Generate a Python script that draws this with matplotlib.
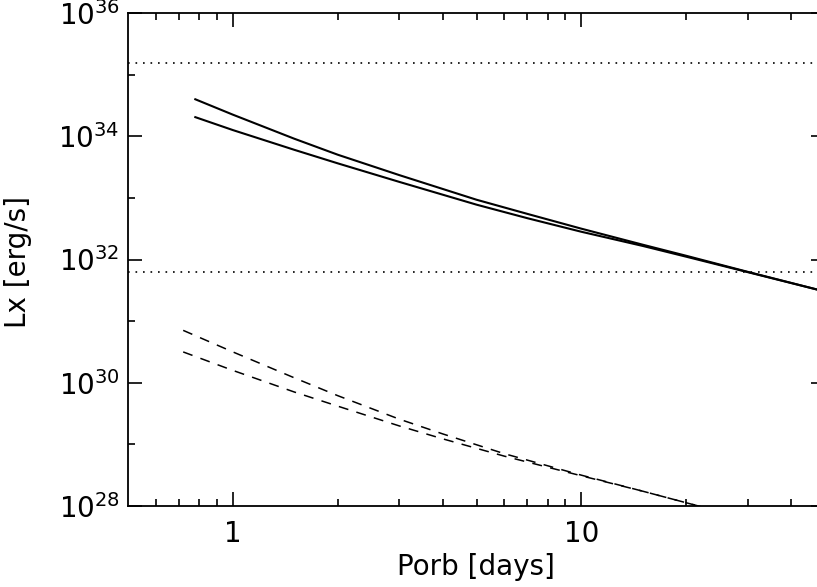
import matplotlib
matplotlib.use("Agg")
from matplotlib import pyplot as plt
from matplotlib.ticker import FixedLocator, FixedFormatter, NullFormatter
import numpy as np

plt.rcParams['font.family'] = 'DejaVu Sans'
plt.rcParams['mathtext.default'] = 'regular'

# orbital period [days]
porb_solid = np.array([0.78, 1.0, 1.5, 2.0, 3.0, 5.0, 7.0, 10.0, 15.0, 20.0, 30.0, 50.0])
# log10 Lx [erg/s], solid curves
logl_solid_hi = np.array([34.60, 34.35, 33.96, 33.70, 33.37, 32.97, 32.74, 32.50, 32.24, 32.06, 31.80, 31.48])
logl_solid_lo = np.array([34.31, 34.10, 33.78, 33.56, 33.26, 32.89, 32.67, 32.45, 32.22, 32.045, 31.795, 31.48])

porb_dash = np.array([0.72, 1.0, 1.5, 2.0, 3.0, 4.0, 6.0, 10.0, 15.0, 22.0])
logl_dash_hi = np.array([30.85, 30.50, 30.08, 29.79, 29.41, 29.17, 28.85, 28.50, 28.24, 27.99])
logl_dash_lo = np.array([30.50, 30.20, 29.85, 29.62, 29.30, 29.09, 28.81, 28.49, 28.24, 27.99])

# horizontal reference levels
lx_levels = [1.55e35, 6.2e31]

fig = plt.figure(figsize=(8.17, 5.87), dpi=100)
ax = fig.add_axes([128 / 817, 81 / 587, 697 / 817, 493 / 587])

ax.plot(porb_solid, 10 ** logl_solid_hi, '-', color='black', lw=1.5)
ax.plot(porb_solid, 10 ** logl_solid_lo, '-', color='black', lw=1.5)
ax.plot(porb_dash, 10 ** logl_dash_hi, color='black', lw=1.1, dashes=(6.5, 5.5))
ax.plot(porb_dash, 10 ** logl_dash_lo, color='black', lw=1.1, dashes=(6.5, 5.5))
for lev in lx_levels:
    ax.axhline(lev, color='black', lw=1.2, ls=(0, (1, 3.5)))

ax.set_xscale('log')
ax.set_yscale('log')
ax.set_xlim(0.5, 50)
ax.set_ylim(1e28, 1e36)

ax.xaxis.set_major_locator(FixedLocator([1, 10]))
ax.xaxis.set_major_formatter(FixedFormatter(['1', '10']))
ax.xaxis.set_minor_locator(FixedLocator([0.6, 0.7, 0.8, 0.9, 2, 3, 4, 5, 6, 7, 8, 9, 20, 30, 40]))
ax.xaxis.set_minor_formatter(NullFormatter())

ydec = [28, 30, 32, 34, 36]
ax.yaxis.set_major_locator(FixedLocator([10.0 ** d for d in ydec]))
ax.yaxis.set_major_formatter(FixedFormatter(['$10^{%d}$' % d for d in ydec]))
ax.yaxis.set_minor_locator(FixedLocator([10.0 ** d for d in [29, 31, 33, 35]]))
ax.yaxis.set_minor_formatter(NullFormatter())

ax.tick_params(which='both', direction='in', top=True, right=True, width=1.2, labelsize=20)
ax.tick_params(which='major', length=10)
ax.tick_params(which='minor', length=5)
ax.tick_params(axis='x', pad=10)
ax.tick_params(axis='y', pad=6)
for s in ax.spines.values():
    s.set_linewidth(1.3)

fig.text(476 / 817, 1 - 567 / 587, 'Porb [days]', ha='center', va='center', fontsize=20)
fig.text(18 / 817, 1 - 262 / 587, 'Lx [erg/s]', ha='center', va='center', rotation=90, fontsize=20)

fig.savefig('out.png', dpi=100)
